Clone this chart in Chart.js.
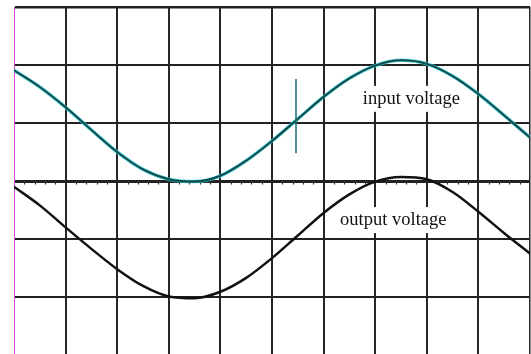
<!DOCTYPE html>
<html>
<head>
<meta charset="utf-8">
<script src="https://cdn.jsdelivr.net/npm/chart.js@4"></script>
<style>
  html, body { margin: 0; padding: 0; background: #fff; overflow: hidden; }
  #wrap { position: absolute; left: 0; top: 0; width: 531px; height: 356px; }
</style>
</head>
<body>
<div id="wrap"><canvas id="scope"></canvas></div>
<script>
// time axis in divisions, sampled every half division
const divX = [0, 0.5, 1, 1.5, 2, 2.5, 3, 3.5, 4, 4.5, 5, 5.5, 6, 6.5, 7, 7.5, 8, 8.5, 9, 9.5, 10];
// trace values in vertical divisions (0 = centre line)
const inputV = [1.91, 1.62, 1.27, 0.88, 0.50, 0.20, 0.03, -0.01, 0.09, 0.35, 0.69, 1.07, 1.45, 1.77, 1.99, 2.08, 2.02, 1.81, 1.50, 1.13, 0.75];
const outputV = [-0.10, -0.42, -0.80, -1.17, -1.52, -1.81, -1.99, -2.02, -1.91, -1.67, -1.33, -0.94, -0.55, -0.23, -0.01, 0.07, 0.03, -0.19, -0.53, -0.90, -1.25];
// cursor marker on the input trace
const markerX = [5.465, 5.465];
const markerY = [1.76, 0.48];
const traceLabels = ["input voltage", "output voltage"];

const pts = (xs, ys) => xs.map((x, i) => ({ x: x, y: ys[i] }));

const FONT = '18.5px "Liberation Serif", "Times New Roman", serif';

const scopeExtras = {
    id: "scopeExtras",
    beforeDatasetsDraw(chart) {
        const { ctx, scales: { x, y } } = chart;
        const y0 = y.getPixelForValue(0);
        ctx.save();
        // small division marks on the centre line
        ctx.strokeStyle = "#333";
        ctx.lineWidth = 1.2;
        for (let i = 0; i <= 50; i++) {
            if (i % 5 === 0) continue;
            const px = Math.round(x.getPixelForValue(i * 0.2)) + 0.5;
            ctx.beginPath();
            ctx.moveTo(px, y0);
            ctx.lineTo(px, y0 + 3.5);
            ctx.stroke();
        }
        // white boxes behind the labels hide the grid
        ctx.font = FONT;
        ctx.fillStyle = "#fff";
        const boxes = [[6.76, 1.33], [6.32, -0.76]];
        boxes.forEach((b, i) => {
            const w = ctx.measureText(traceLabels[i]).width;
            const bx = x.getPixelForValue(b[0]);
            const by = y.getPixelForValue(b[1]);
            ctx.fillRect(bx - 3, by - 18, w + 6, 26);
        });
        ctx.restore();
    },
    afterDatasetsDraw(chart) {
        const { ctx, scales: { x, y } } = chart;
        ctx.save();
        ctx.font = FONT;
        ctx.fillStyle = "#111";
        ctx.textBaseline = "alphabetic";
        ctx.fillText(traceLabels[0], x.getPixelForValue(6.76), y.getPixelForValue(1.33));
        ctx.fillText(traceLabels[1], x.getPixelForValue(6.32), y.getPixelForValue(-0.76));
        ctx.restore();
    }
};

new Chart(document.getElementById("scope").getContext("2d"), {
    type: "line",
    data: {
        datasets: [
            {
                label: "output voltage",
                data: pts(divX, outputV),
                borderColor: "#111",
                borderWidth: 2.5,
                cubicInterpolationMode: "monotone",
                pointRadius: 0,
                order: 1
            },
            {
                label: "input glow",
                data: pts(divX, inputV),
                borderColor: "rgba(40, 205, 215, 0.8)",
                borderWidth: 3.5,
                cubicInterpolationMode: "monotone",
                pointRadius: 0,
                order: 3
            },
            {
                label: "input voltage",
                data: pts(divX, inputV),
                borderColor: "#124a4c",
                borderWidth: 2,
                cubicInterpolationMode: "monotone",
                pointRadius: 0,
                order: 2
            },
            {
                label: "marker",
                data: pts(markerX, markerY),
                borderColor: "#1d6b6d",
                borderWidth: 1.5,
                pointRadius: 0,
                order: 0
            }
        ]
    },
    options: {
        responsive: true,
        maintainAspectRatio: false,
        animation: false,
        layout: { padding: { left: 14, top: 7, right: 1, bottom: 1 } },
        plugins: { legend: { display: false }, tooltip: { enabled: false } },
        scales: {
            x: {
                type: "linear",
                min: 0,
                max: 10,
                ticks: { display: false, stepSize: 1 },
                grid: {
                    drawTicks: false,
                    color: ctx => ctx.tick && ctx.tick.value === 0 ? "rgba(0,0,0,0)" : "#262626",
                    lineWidth: ctx => ctx.tick && ctx.tick.value === 10 ? 1.5 : 2
                },
                border: { display: true, color: "#222", width: 1 }
            },
            y: {
                min: -3,
                max: 3,
                ticks: { display: false, stepSize: 1 },
                grid: {
                    drawTicks: false,
                    color: "#222",
                    lineWidth: ctx => {
                        if (!ctx.tick) return 2;
                        if (ctx.tick.value === 0) return 3;
                        if (ctx.tick.value === 3) return 2.5;
                        return 2;
                    }
                },
                border: { display: true, color: "#d24ad2", width: 1 }
            }
        }
    },
    plugins: [scopeExtras]
});
</script>
</body>
</html>
